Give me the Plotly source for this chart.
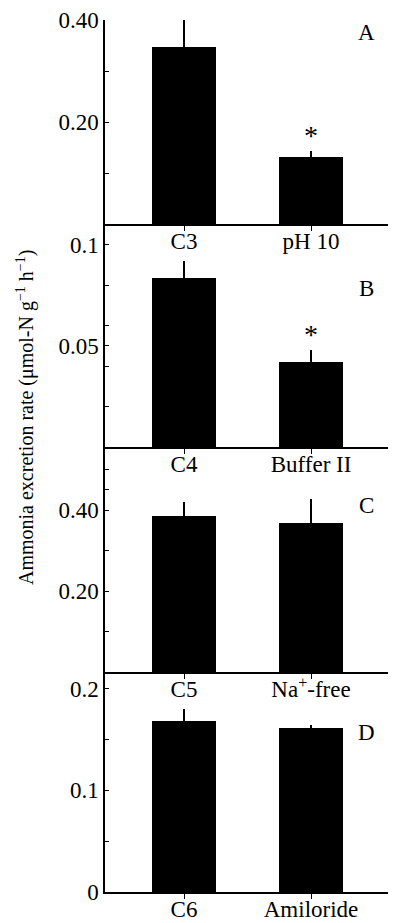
import plotly.graph_objects as go
from plotly.subplots import make_subplots

# ---- data ----
cats_A = ["C3", "pH 10"]
vals_A = [0.348, 0.131]
err_A = [0.052, 0.012]

cats_B = ["C4", "Buffer II"]
vals_B = [0.0837, 0.042]
err_B = [0.0082, 0.0061]

cats_C = ["C5", "Na<sup>+</sup>-free"]
vals_C = [0.384, 0.367]
err_C = [0.036, 0.060]

cats_D = ["C6", "Amiloride"]
vals_D = [0.168, 0.161]
err_D = [0.012, 0.003]

panel_letters = ["A", "B", "C", "D"]
sig_marks = [[None, "*"], [None, "*"], [None, None], [None, None]]

y_ranges = [[0, 0.40], [0, 0.1102], [0, 0.5556], [0, 0.2163]]
y_tickvals = [[0.20, 0.40], [0.05, 0.1], [0.20, 0.40], [0, 0.1, 0.2]]
y_ticktext = [["0.20", "0.40"], ["0.05", "0.1"], ["0.20", "0.40"], ["0", "0.1", "0.2"]]
y_minor = [[0.10, 0.30], [0.02, 0.04, 0.06, 0.08], [0.10, 0.30, 0.45, 0.50], [0.05, 0.15]]

panels = [(cats_A, vals_A, err_A), (cats_B, vals_B, err_B),
          (cats_C, vals_C, err_C), (cats_D, vals_D, err_D)]

FONT = "Liberation Serif"
OFF = 8  # page body margin offset
W, H = 396 - OFF, 923 - OFF
ML, MR, MT, MB = 105 - OFF, 0, 20 - OFF, 31
plot_h = H - MT - MB

# pixel boundaries (in screenshot coords) of panels
bounds_px = [20, 224, 447, 672, 892]
def py(px):
    return 1 - (px - OFF - MT) / plot_h
def pxx(px):
    return (px - OFF - ML) / (W - ML - MR)

fig = make_subplots(rows=4, cols=1, shared_xaxes=False, vertical_spacing=0)

for i, (cats, vals, errs) in enumerate(panels):
    r = i + 1
    fig.add_trace(go.Bar(
        x=[0, 1], y=vals, width=0.504,
        marker=dict(color="black", line=dict(width=0)),
        error_y=dict(type="data", array=errs, arrayminus=[0, 0], symmetric=False,
                     color="black", thickness=1.5, width=0),
        showlegend=False), row=r, col=1)
    xa = "xaxis" if i == 0 else f"xaxis{r}"
    ya = "yaxis" if i == 0 else f"yaxis{r}"
    fig.layout[xa].update(
        range=[-0.622, 1.669], tickvals=[0, 1], ticktext=cats,
        showline=True, linecolor="black", linewidth=1.5,
        ticks="outside", ticklen=5, tickcolor="black", tickwidth=1,
        ticklabelstandoff=-9,
        showgrid=False, zeroline=False,
        tickfont=dict(family=FONT, size=23, color="black"))
    fig.layout[ya].update(
        range=y_ranges[i], tickvals=y_tickvals[i], ticktext=y_ticktext[i],
        domain=[py(bounds_px[i + 1]), py(bounds_px[i])],
        showline=True, linecolor="black", linewidth=1.5,
        ticks="inside", ticklen=4, tickcolor="black", tickwidth=1,
        minor=dict(tickvals=y_minor[i], ticks="inside", ticklen=4,
                   tickcolor="black", tickwidth=1),
        showgrid=False, zeroline=False,
        tickfont=dict(family=FONT, size=23, color="black"))
    for j, m in enumerate(sig_marks[i]):
        if m:
            fig.add_annotation(x=j, y=vals[j] + errs[j], xref=f"x{r}" if r > 1 else "x",
                               yref=f"y{r}" if r > 1 else "y", text=m, showarrow=False,
                               yanchor="bottom", yshift=-2,
                               font=dict(family=FONT, size=28, color="black"))

letter_px_y = [32, 288, 505, 732]
for L, ypx in zip(panel_letters, letter_px_y):
    fig.add_annotation(x=pxx(366), y=py(ypx), xref="paper", yref="paper",
                       text=L, showarrow=False, xanchor="center", yanchor="middle",
                       font=dict(family=FONT, size=23, color="black"))

fig.add_annotation(x=pxx(25), y=py(418), xref="paper", yref="paper",
                   text="Ammonia excretion rate (μmol-N g<sup>−1</sup> h<sup>−1</sup>)",
                   textangle=-90, showarrow=False, xanchor="center", yanchor="middle",
                   font=dict(family=FONT, size=20, color="black"))

fig.update_layout(width=W, height=H, margin=dict(l=ML, r=MR, t=MT, b=MB, autoexpand=False),
                  plot_bgcolor="white", paper_bgcolor="white", bargap=0)

fig.write_html("out.html")
